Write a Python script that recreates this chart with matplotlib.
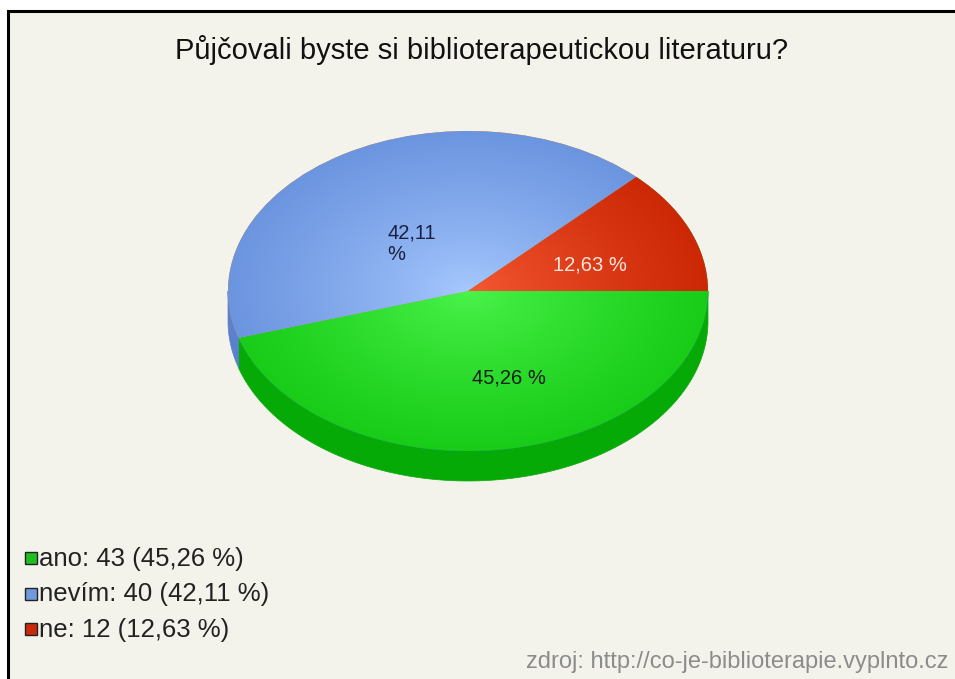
import numpy as np
import matplotlib.pyplot as plt
from matplotlib.colors import to_rgb
from matplotlib.patches import Rectangle, Polygon

# Odpovědi na otázku
kategorie = ['ano', 'nevím', 'ne']
pocty = [43, 40, 12]

# barvy výsečí: střed, okraj, bok, čtvereček v legendě
barvy_stred = ['#4cf44c', '#a8caff', '#f65a34']
barvy_okraj = ['#18cc18', '#6c95e0', '#cc2806']
barvy_bok = ['#06aa06', '#5a82cc', '#b02000']
barvy_legenda = ['#1fbf1f', '#7199dd', '#c92a0c']
barvy_popisku = ['#102010', '#1c2040', '#fbe6dc']

titulek = 'Půjčovali byste si biblioterapeutickou literaturu?'
zdroj = 'zdroj: http://co-je-biblioterapie.vyplnto.cz'

plt.rcParams['font.family'] = ['Liberation Sans', 'DejaVu Sans']

W, H = 955, 679
fig = plt.figure(figsize=(W / 100, H / 100), dpi=100, facecolor='white')

# pozadí v pixelových souřadnicích
bg = fig.add_axes([0, 0, 1, 1])
bg.set_xlim(0, W)
bg.set_ylim(H, 0)
bg.axis('off')
bg.add_patch(Rectangle((8, 11), W + 20, H + 20, facecolor='#f4f3eb',
                       edgecolor='black', linewidth=2.2))
bg.text(482, 50, titulek, ha='center', va='center', fontsize=21, color='#111111')
bg.text(948, 662, zdroj, ha='right', va='center', fontsize=17, color='#8c8c8c')

# legenda
celkem = sum(pocty)
for i, (k, n) in enumerate(zip(kategorie, pocty)):
    y = 558 + i * 35.5
    bg.add_patch(Rectangle((25, y - 6), 12, 12, facecolor=barvy_legenda[i],
                           edgecolor='#222222', linewidth=1))
    pct = f'{100 * n / celkem:.2f}'.replace('.', ',')
    bg.text(39, y + 1, f'{k}: {n} ({pct} %)', ha='left', va='center',
            fontsize=18.5, color='#222222')

# koláč: střed (468, 291) px, poloosy 240 x 160 px, hloubka 30 px
cx, cy, rx, ry = 468, 291, 240, 160
hloubka = 30 / ry
x0, x1, y0, y1 = -1.1, 1.1, -1.35, 1.1
left = cx + x0 * rx
top = cy - y1 * ry
ax = fig.add_axes([left / W, 1 - (top + (y1 - y0) * ry) / H,
                   (x1 - x0) * rx / W, (y1 - y0) * ry / H])
ax.patch.set_alpha(0)
wedges, _ = ax.pie(pocty, startangle=0, counterclock=False, radius=1,
                   wedgeprops=dict(linewidth=0))
ax.set_aspect('auto')
ax.axis('off')

# boční stěna viditelná jen v dolní polovině
for i, w in enumerate(wedges):
    for posun in (0, -360):
        a = max(w.theta1, -180 + posun)
        b = min(w.theta2, 0 + posun)
        if b <= a:
            continue
        t = np.radians(np.linspace(a, b, 120))
        horni = np.column_stack([np.cos(t), np.sin(t)])
        dolni = np.column_stack([np.cos(t[::-1]), np.sin(t[::-1]) - hloubka])
        ax.add_patch(Polygon(np.vstack([horni, dolni]), closed=True,
                             facecolor=barvy_bok[i], edgecolor=barvy_bok[i],
                             linewidth=0.5, zorder=0.5))

# radiální přechod na horní ploše
g = np.linspace(-1, 1, 400)
gx, gy = np.meshgrid(g, g)
r = np.clip(np.hypot(gx, gy), 0, 1)[..., None]
for i, w in enumerate(wedges):
    c0 = np.array(to_rgb(barvy_stred[i]))
    c1 = np.array(to_rgb(barvy_okraj[i]))
    img = c0 + (c1 - c0) * r ** 0.8
    im = ax.imshow(img, extent=(-1, 1, -1, 1), origin='lower', aspect='auto',
                   interpolation='bilinear', zorder=2)
    im.set_clip_path(w)
ax.set_xlim(x0, x1)
ax.set_ylim(y0, y1)

# popisky procent
pozice = [(0.17, -0.545), (-0.335, 0.295), (0.51, 0.165)]
for i, n in enumerate(pocty):
    pct = f'{100 * n / celkem:.2f}'.replace('.', ',')
    px, py = pozice[i]
    if kategorie[i] == 'nevím':
        ax.text(px, py, f'{pct}\n%', ha='left', va='center', fontsize=14.5,
                linespacing=1.2, color=barvy_popisku[i], zorder=3)
    else:
        ax.text(px, py, f'{pct} %', ha='center', va='center', fontsize=14.5,
                color=barvy_popisku[i], zorder=3)

fig.savefig('out.png', dpi=100, facecolor='white')
